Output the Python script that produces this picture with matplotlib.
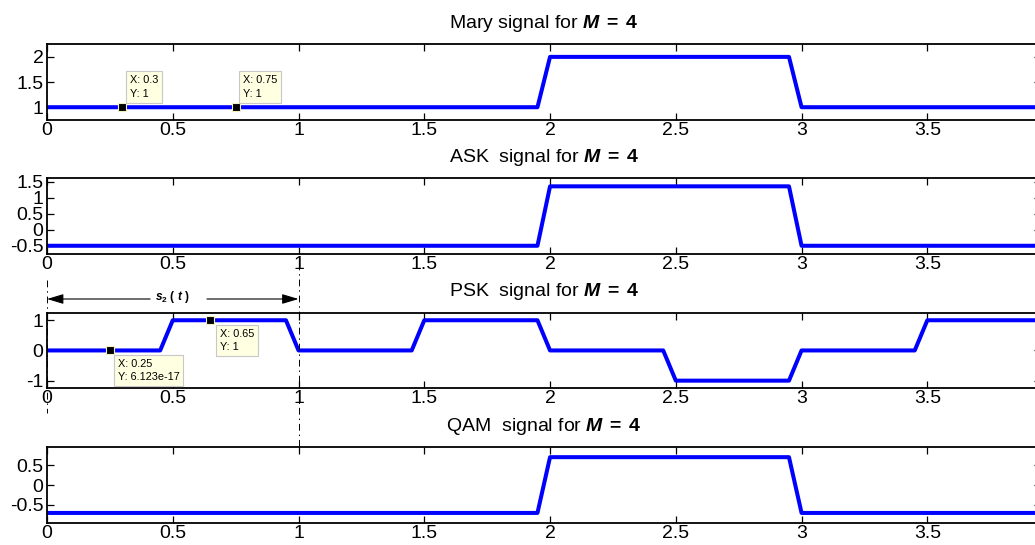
import numpy as np
import matplotlib
matplotlib.use('Agg')
import matplotlib.pyplot as plt
from matplotlib import transforms
from matplotlib.lines import Line2D

plt.rcParams['font.family'] = ['Liberation Sans', 'DejaVu Sans']
plt.rcParams['mathtext.fontset'] = 'custom'
plt.rcParams['mathtext.rm'] = 'Liberation Sans'
plt.rcParams['mathtext.it'] = 'Liberation Sans:italic'
plt.rcParams['mathtext.bf'] = 'Liberation Sans:bold'
plt.rcParams['mathtext.bfit'] = 'Liberation Sans:bold:italic'
plt.rcParams['axes.unicode_minus'] = False

# sample times (step 0.05, 20 samples per symbol)
t = np.arange(80) * 0.05

# symbol levels
mary_sym = [1, 1, 2, 1]
ask_sym = [-0.5, -0.5, 1.35, -0.5]
qam_sym = [-0.7071, -0.7071, 0.7071, -0.7071]
psk_half = [6.123e-17, 1, 6.123e-17, 1, 6.123e-17, -1, 6.123e-17, 1]  # per half symbol

mary = np.repeat(mary_sym, 20)
ask = np.repeat(ask_sym, 20)
qam = np.repeat(qam_sym, 20)
psk = np.repeat(psk_half, 10)

titles = ['Mary signal for', 'ASK  signal for', 'PSK  signal for', 'QAM  signal for']
xticks = [0, 0.5, 1, 1.5, 2, 2.5, 3, 3.5]
xlabels = ['0', '0.5', '1', '1.5', '2', '2.5', '3', '3.5']
yticks_all = [[1, 1.5, 2], [-0.5, 0, 0.5, 1, 1.5], [-1, 0, 1], [-0.5, 0, 0.5]]
ylabels_all = [['1', '1.5', '2'], ['-0.5', '0', '0.5', '1', '1.5'],
               ['-1', '0', '1'], ['-0.5', '0', '0.5']]

# data tips (x, y)
mary_tips = [(0.3, 1), (0.75, 1)]
psk_tips = [(0.25, 6.123e-17), (0.65, 1)]

W, H = 1035.0, 545.0
fig = plt.figure(figsize=(W / 100, H / 100), dpi=100)

tops = [44.3, 178.3, 312.7, 447.3]
h = 75.5
axes = []
for i, y in enumerate([mary, ask, psk, qam]):
    ax = fig.add_axes([47 / W, 1 - (tops[i] + h) / H, (1040.5 - 47) / W, h / H])
    ax.plot(t, y, color='#0000ff', lw=2.9)
    ax.set_xlim(0, 3.95)
    ax.set_ylim(min(y) - 0.25, max(y) + 0.25)
    ax.set_xticks(xticks)
    ax.set_xticklabels(xlabels)
    ax.set_yticks(yticks_all[i])
    ax.set_yticklabels(ylabels_all[i])
    ax.tick_params(direction='in', top=True, right=True, length=5, width=0.9,
                   labelsize=14, colors='k')
    ax.tick_params(axis='x', pad=1.5)
    ax.tick_params(axis='y', pad=2.5)
    for s in ax.spines.values():
        s.set_linewidth(1.3)
    ax.set_title(titles[i] + r' $\mathbfit{M}\;\mathbf{=}\;\mathbf{4}$', fontsize=14, pad=12)
    axes.append(ax)


def datatip(ax, x, y, dx, dy, va):
    ax.plot(x, y, 's', color='k', ms=6, mec='#f2f2c0', mew=0.8, zorder=5)
    ax.annotate('X: %.4g\nY: %.4g' % (x, y), xy=(x, y), xytext=(dx, dy),
                textcoords='offset points', ha='left', va=va, fontsize=7.8,
                linespacing=1.45, zorder=6, annotation_clip=False,
                bbox=dict(boxstyle='square,pad=0.35', fc='#ffffe1', ec='#c8c8c8', lw=0.8))


for x, y in mary_tips:
    datatip(axes[0], x, y, 5.5, 6.0, 'bottom')
datatip(axes[2], psk_tips[0][0], psk_tips[0][1], 5.5, -6.0, 'top')
datatip(axes[2], psk_tips[1][0], psk_tips[1][1], 6.5, -6.0, 'top')

# s2(t) span annotation over the PSK plot
ax3 = axes[2]
blend = transforms.blended_transform_factory(ax3.transData, fig.transFigure)
dash = (0, (7, 4, 1.5, 4))
fig.add_artist(Line2D([0, 0], [1 - 280 / H, 1 - 413 / H], transform=blend,
                      color='k', lw=0.7, linestyle=dash))
fig.add_artist(Line2D([1, 1], [1 - 263 / H, 1 - 452 / H], transform=blend,
                      color='k', lw=0.7, linestyle=dash))
ya = 1 - 299 / H
arrow = dict(arrowstyle='-|>,head_length=1.0,head_width=0.3', color='k', lw=0.8,
             shrinkA=0, shrinkB=0)
ax3.annotate('', xy=(0, ya), xytext=(0.41, ya), xycoords=blend, textcoords=blend,
             arrowprops=arrow, annotation_clip=False)
ax3.annotate('', xy=(1, ya), xytext=(0.636, ya), xycoords=blend, textcoords=blend,
             arrowprops=arrow, annotation_clip=False)
ax3.text(0.5, 1 - 297 / H, r'$\mathbfit{s}_{\mathbf{2}}\ \mathbf{(}\ \mathbfit{t}\ \mathbf{)}$',
         transform=blend, ha='center', va='center', fontsize=8.5, clip_on=False)

fig.savefig('out.png', dpi=100)
